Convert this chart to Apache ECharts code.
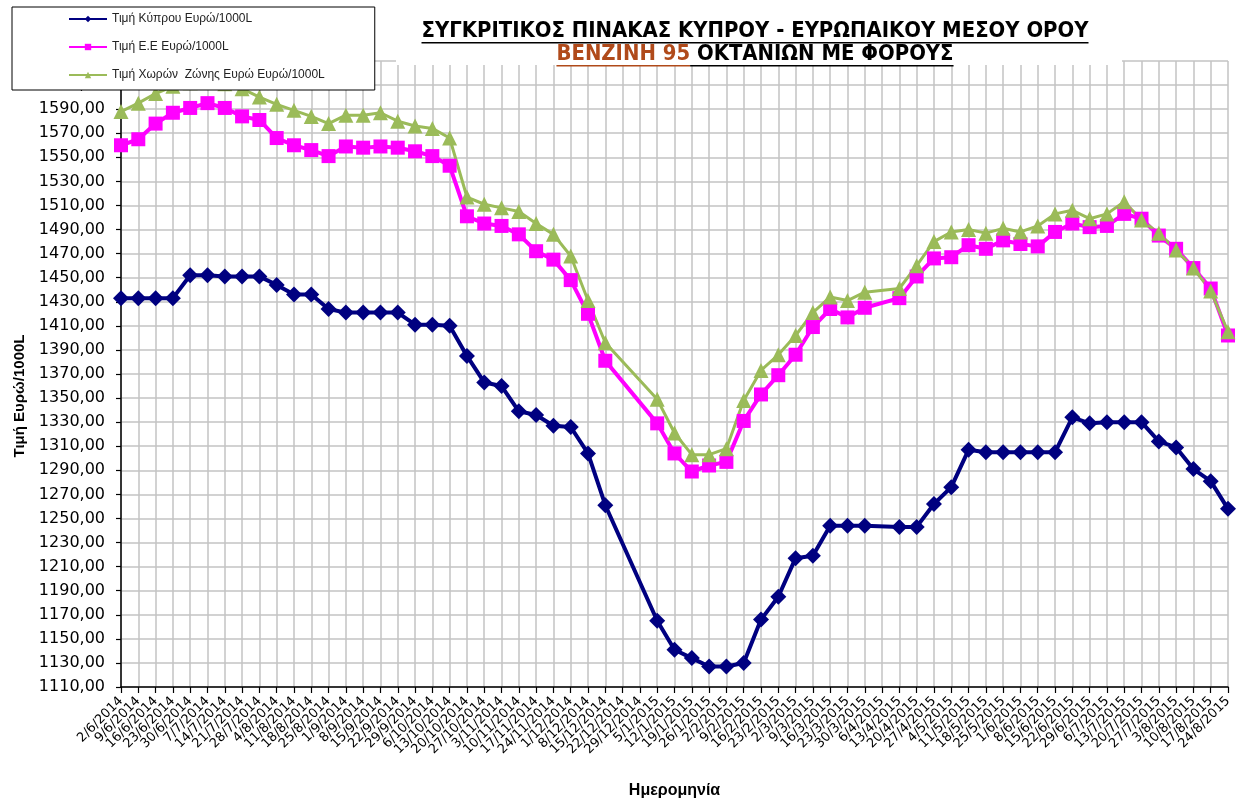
<!DOCTYPE html>
<html>
<head>
<meta charset="utf-8">
<script src="https://cdn.jsdelivr.net/npm/echarts@6/dist/echarts.min.js"></script>
<style>
  html, body { margin: 0; padding: 0; background: #fff; }
  #chart { width: 1238px; height: 803px; }
</style>
</head>
<body>
<div id="chart"></div>
<script>
// weekly dates, 2/6/2014 - 24/8/2015
var dates = [
  "2/6/2014", "9/6/2014", "16/6/2014", "23/6/2014", "30/6/2014", "7/7/2014", "14/7/2014", "21/7/2014",
  "28/7/2014", "4/8/2014", "11/8/2014", "18/8/2014", "25/8/2014", "1/9/2014", "8/9/2014", "15/9/2014",
  "22/9/2014", "29/9/2014", "6/10/2014", "13/10/2014", "20/10/2014", "27/10/2014", "3/11/2014", "10/11/2014",
  "17/11/2014", "24/11/2014", "1/12/2014", "8/12/2014", "15/12/2014", "22/12/2014", "29/12/2014",
  "5/1/2015", "12/1/2015", "19/1/2015", "26/1/2015", "2/2/2015", "9/2/2015", "16/2/2015", "23/2/2015",
  "2/3/2015", "9/3/2015", "16/3/2015", "23/3/2015", "30/3/2015", "6/4/2015", "13/4/2015", "20/4/2015",
  "27/4/2015", "4/5/2015", "11/5/2015", "18/5/2015", "25/5/2015", "1/6/2015", "8/6/2015", "15/6/2015",
  "22/6/2015", "29/6/2015", "6/7/2015", "13/7/2015", "20/7/2015", "27/7/2015", "3/8/2015", "10/8/2015",
  "17/8/2015", "24/8/2015"
];

// null = no price that week (line is joined across)
var cyprus = [
  1433, 1433, 1433, 1433, 1452, 1452, 1451, 1451, 1451, 1444, 1436, 1436, 1424, 1421, 1421, 1421,
  1421, 1411, 1411, 1410, 1385, 1363, 1360, 1339, 1336, 1327, 1326, 1304, 1261, null, null,
  1165, 1141, 1134, 1127, 1127, 1130, 1166, 1185, 1217, 1219, 1244, 1244, 1244, null, 1243, 1243,
  1262, 1276, 1307, 1305, 1305, 1305, 1305, 1305, 1334, 1329, 1330, 1330, 1330, 1314, 1309, 1291,
  1281, 1258
];
var eu = [
  1560, 1565, 1578, 1587, 1591, 1595, 1591, 1584, 1581, 1566, 1560, 1556, 1551, 1559, 1558, 1559,
  1558, 1555, 1551, 1543, 1501, 1495, 1493, 1486, 1472, 1465, 1448, 1420, 1381, null, null,
  1329, 1304, 1289, 1294, 1297, 1331, 1353, 1369, 1386, 1409, 1424, 1417, 1425, null, 1433, 1451,
  1466, 1467, 1477, 1474, 1481, 1478, 1476, 1488, 1495, 1492, 1493, 1503, 1499, 1485, 1474, 1458,
  1441, 1402
];
var euroZone = [
  1588, 1595, 1603, 1609, 1612, 1614, 1611, 1607, 1600, 1594, 1589, 1584, 1578, 1585, 1585, 1587,
  1580, 1576, 1574, 1566, 1517, 1511, 1508, 1505, 1495, 1486, 1468, 1431, 1396, null, null,
  1349, 1321, 1303, 1303, 1308, 1348, 1373, 1386, 1402, 1421, 1434, 1431, 1438, null, 1441, 1460,
  1480, 1488, 1490, 1487, 1491, 1488, 1493, 1503, 1506, 1499, 1503, 1513, 1498, 1487, 1473, 1458,
  1439, 1405
];

var names = ["Τιμή Κύπρου Ευρώ/1000L", "Τιμή Ε.Ε Ευρώ/1000L", "Τιμή Χωρών  Ζώνης Ευρώ Ευρώ/1000L"];
var title1 = "ΣΥΓΚΡΙΤΙΚΟΣ ΠΙΝΑΚΑΣ ΚΥΠΡΟΥ - ΕΥΡΩΠΑΙΚΟΥ ΜΕΣΟΥ ΟΡΟΥ";
var title2a = "ΒΕΝΖΙΝΗ 95";
var title2b = " ΟΚΤΑΝΙΩΝ ΜΕ ΦΟΡΟΥΣ";

var titleFont = "bold 21px 'Liberation Sans Narrow', 'DejaVu Sans Condensed', 'Liberation Sans', sans-serif";
var ctx = document.createElement("canvas").getContext("2d");
function textWidth(t) { ctx.font = titleFont; return ctx.measureText(t).width; }

var w1 = textWidth(title1);
var w2a = textWidth(title2a);
var w2b = textWidth(title2b);
var sx = 667 / w1;   // squeeze title to the width of the original
var w2 = w2a + w2b;

var chartDom = document.getElementById("chart");
var myChart = echarts.init(chartDom);

function lineSeries(name, data, color, symbol, size, width) {
  return {
    name: name,
    type: "line",
    data: data,
    connectNulls: true,
    symbol: symbol,
    symbolSize: size,
    showAllSymbol: true,
    lineStyle: { color: color, width: width },
    itemStyle: { color: color },
    emphasis: { disabled: true }
  };
}

var option = {
  animation: false,
  backgroundColor: "#fff",
  grid: { left: 121, right: 10, top: 61, bottom: 116, containLabel: false, outerBoundsMode: "none" },
  legend: {
    orient: "vertical",
    left: 12,
    top: 7,
    padding: [6, 50, 9, 56],
    itemWidth: 38,
    itemHeight: 8,
    itemGap: 16,
    backgroundColor: "#fff",
    borderColor: "#000",
    borderWidth: 1,
    borderRadius: 0,
    textStyle: { fontSize: 12, color: "#222", fontFamily: "Liberation Sans" },
    data: names
  },
  xAxis: {
    type: "category",
    data: dates,
    boundaryGap: false,
    name: "Ημερομηνία",
    nameLocation: "middle",
    nameGap: 96,
    nameTextStyle: { fontSize: 16, fontWeight: "bold", color: "#000", fontFamily: "Liberation Sans" },
    axisLine: { lineStyle: { color: "#000", width: 1.5 } },
    axisTick: { show: true, interval: 0, length: 6, lineStyle: { color: "#000", width: 1.2 } },
    axisLabel: { interval: 0, rotate: 45, margin: 12, fontSize: 13, color: "#000", fontFamily: "DejaVu Sans" },
    splitLine: { show: true, interval: 0, lineStyle: { color: "#c3c3c3", width: 1.5 } }
  },
  yAxis: {
    type: "value",
    min: 1110,
    max: 1630,
    interval: 20,
    name: "Τιμή Ευρώ/1000L",
    nameLocation: "middle",
    nameGap: 94,
    nameTextStyle: { fontSize: 15, fontWeight: "bold", color: "#000", fontFamily: "Liberation Sans", padding: [0, 44, 0, 0] },
    axisLine: { show: true, lineStyle: { color: "#000", width: 1.5 } },
    axisTick: { show: true, length: 5, lineStyle: { color: "#000", width: 1.2 } },
    axisLabel: {
      fontSize: 16, color: "#000", margin: 16, fontFamily: "DejaVu Sans",
      formatter: function (v) { return v.toFixed(2).replace(".", ","); }
    },
    splitLine: { show: true, lineStyle: { color: "#c3c3c3", width: 1.5 } }
  },
  series: [
    lineSeries(names[0], cyprus, "#000080", "diamond", 16, 4),
    lineSeries(names[1], eu, "#ff00ff", "rect", 14, 4),
    lineSeries(names[2], euroZone, "#9bbb59", "triangle", 15, 3)
  ],
  graphic: [
    // title box sits over the top of the plot, white filled
    { type: "rect", z: 5, shape: { x: 396, y: 10, width: 726, height: 55 }, style: { fill: "#fff" } },
    {
      type: "group",
      x: 755,
      y: 0,
      scaleX: sx,
      children: [
        { type: "text", z: 10, x: -w1 / 2, y: 32,
          style: { text: title1, font: titleFont, fill: "#000", textVerticalAlign: "middle" } },
        { type: "rect", z: 10, shape: { x: -w1 / 2, y: 42, width: w1, height: 1.6 }, style: { fill: "#000" } },
        { type: "text", z: 10, x: -w2 / 2, y: 55,
          style: { text: title2a, font: titleFont, fill: "#b04a1a", textVerticalAlign: "middle" } },
        { type: "text", z: 10, x: -w2 / 2 + w2a, y: 55,
          style: { text: title2b, font: titleFont, fill: "#000", textVerticalAlign: "middle" } },
        { type: "rect", z: 10, shape: { x: -w2 / 2, y: 65, width: w2a, height: 1.6 }, style: { fill: "#b04a1a" } },
        { type: "rect", z: 10, shape: { x: -w2 / 2 + w2a, y: 65, width: w2b, height: 1.6 }, style: { fill: "#000" } }
      ]
    }
  ]
};

option && myChart.setOption(option);
</script>
</body>
</html>
